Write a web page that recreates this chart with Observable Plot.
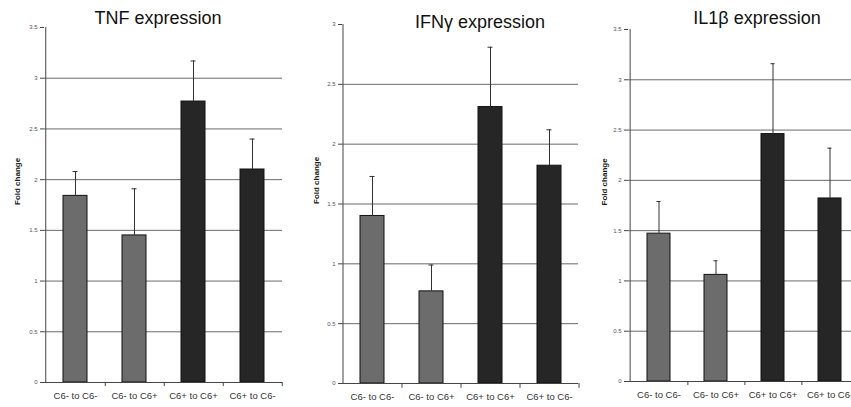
<!DOCTYPE html>
<html>
<head>
<meta charset="utf-8">
<script src="https://cdn.jsdelivr.net/npm/d3@7"></script>
<script src="https://cdn.jsdelivr.net/npm/@observablehq/plot@0.6"></script>
<style>
  html, body { margin: 0; padding: 0; background: #fff; }
  #wrap { position: relative; width: 851px; height: 407px; overflow: hidden; background: #fff; font-family: "Liberation Sans", Arial, sans-serif; }
  .panel { position: absolute; top: 0; }
  .title { position: absolute; font-size: 18px; color: #111; white-space: nowrap; transform: translate(-50%, -50%); }
</style>
</head>
<body>
<div id="wrap"></div>
<script>
// ---- data ----
const categories = ["C6- to C6-", "C6- to C6+", "C6+ to C6+", "C6+ to C6-"];
const groupOf = ["neg", "neg", "pos", "pos"];

const tnfMean = [1.84, 1.45, 2.77, 2.10];
const tnfUpper = [2.08, 1.91, 3.17, 2.40];

const ifnMean = [1.40, 0.77, 2.31, 1.82];
const ifnUpper = [1.73, 0.99, 2.81, 2.12];

const il1Mean = [1.47, 1.06, 2.46, 1.82];
const il1Upper = [1.79, 1.20, 3.16, 2.32];

const ticks35 = [0, 0.5, 1, 1.5, 2, 2.5, 3, 3.5];
const ticks30 = [0, 0.5, 1, 1.5, 2, 2.5, 3];
const yLabel = "Fold change";

// ---- layout per panel ----
const panels = [
  {title: "TNF expression", mean: tnfMean, upper: tnfUpper, ticks: ticks35, max: 3.5,
   left: 0, width: 290, mLeft: 44, mRight: 8, mTop: 27, mBottom: 25, titleX: 158, titleY: 18, labelDx: -27},
  {title: "IFN\u03b3 expression", mean: ifnMean, upper: ifnUpper, ticks: ticks30, max: 3,
   left: 290, width: 290, mLeft: 52, mRight: 2, mTop: 24, mBottom: 24, titleX: 480, titleY: 22, labelDx: -26},
  {title: "IL1\u03b2 expression", mean: il1Mean, upper: il1Upper, ticks: ticks35, max: 3.5,
   left: 580, width: 290, mLeft: 48, mRight: 11, mTop: 29, mBottom: 26, titleX: 757, titleY: 18, labelDx: -24}
];

const wrap = document.getElementById("wrap");

for (const p of panels) {
  const rows = categories.map((c, i) => ({cat: c, group: groupOf[i], mean: p.mean[i], upper: p.upper[i]}));
  const grid = p.ticks.filter(t => t > 0 && t < p.max);
  const step = (p.width - p.mLeft - p.mRight) / categories.length;

  const chart = Plot.plot({
    width: p.width,
    height: 407,
    marginLeft: p.mLeft,
    marginRight: p.mRight,
    marginTop: p.mTop,
    marginBottom: p.mBottom,
    style: {background: "transparent", overflow: "visible", fontFamily: "Liberation Sans, Arial, sans-serif"},
    x: {domain: categories, paddingInner: 0.6, paddingOuter: 0.3, axis: null},
    y: {domain: [0, p.max], axis: null},
    color: {domain: ["neg", "pos"], range: ["#6c6c6c", "#262626"]},
    marks: [
      Plot.ruleY(grid, {stroke: "#6a6a6a", strokeWidth: 1}),
      Plot.barY(rows, {x: "cat", y: "mean", fill: "group", stroke: "#111", strokeWidth: 1}),
      Plot.ruleX(rows, {x: "cat", y1: "mean", y2: "upper", stroke: "#333", strokeWidth: 1}),
      Plot.tickY(rows, {x: "cat", y: "upper", stroke: "#333", strokeWidth: 1, insetLeft: 9.5, insetRight: 9.5}),
      Plot.axisY({ticks: p.ticks, tickSize: 4, fontSize: 6, tickPadding: 3, tickFormat: d => String(d), color: "#555", stroke: "#444", label: null}),
      Plot.ruleX([0], {x: () => categories[0], dx: -step / 2, y1: 0, y2: p.max, stroke: "#444"}),
      Plot.ruleY([0], {stroke: "#444"}),
      Plot.ruleX(categories, {x: d => d, dx: step / 2, y1: 0, y2: -0.04, stroke: "#444"}),
      Plot.axisX({tickSize: 0, tickPadding: 10, fontSize: 9.5, color: "#333", label: null}),
      Plot.text([yLabel], {frameAnchor: "left", text: d => d, rotate: -90, dx: p.labelDx, fontWeight: "bold", fontSize: 8, fill: "#222"})
    ]
  });
  chart.classList.add("panel");
  chart.style.left = p.left + "px";
  wrap.appendChild(chart);

  const t = document.createElement("div");
  t.className = "title";
  t.textContent = p.title;
  t.style.left = p.titleX + "px";
  t.style.top = p.titleY + "px";
  wrap.appendChild(t);
}
</script>
</body>
</html>
